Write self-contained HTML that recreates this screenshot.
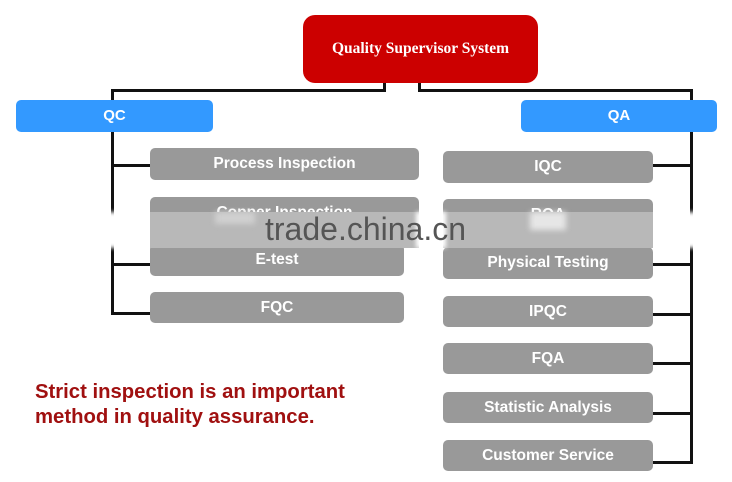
<!DOCTYPE html>
<html>
<head>
<meta charset="utf-8">
<style>
  html,body{margin:0;padding:0;background:#fff;}
  body{width:732px;height:482px;position:relative;overflow:hidden;}
  .a{position:absolute;}
  .ln{position:absolute;background:#111;}
  .red{position:absolute;left:303px;top:15px;width:235px;height:68px;background:#cc0000;border-radius:12px;
       color:#fff;font:bold 15.5px "Liberation Serif",serif;text-align:center;line-height:68px;}
  .blue{position:absolute;height:32px;background:#3399ff;border-radius:5px;color:#fff;
        font:bold 15px "Liberation Sans",sans-serif;text-align:center;line-height:32px;}
  .g{position:absolute;background:#999;border-radius:5px;color:#fff;
     font:bold 15.5px "Liberation Sans",sans-serif;text-align:center;}
  .band{position:absolute;background:#b8b8b8;}
  .txt{position:absolute;left:35px;top:380px;color:#a01010;font:bold 20.3px "Liberation Sans",sans-serif;line-height:25px;}
  .wm{position:absolute;left:265px;top:209px;font:32px "Liberation Sans",sans-serif;color:#555;line-height:40px;}
</style>
</head>
<body>
  <!-- connectors -->
  <div class="ln" style="left:383px;top:82px;width:3px;height:10px;"></div>
  <div class="ln" style="left:111px;top:89px;width:275px;height:3px;"></div>
  <div class="ln" style="left:418px;top:82px;width:3px;height:10px;"></div>
  <div class="ln" style="left:418px;top:89px;width:275px;height:3px;"></div>
  <div class="ln" style="left:111px;top:89px;width:3px;height:226px;"></div>
  <div class="ln" style="left:690px;top:89px;width:3px;height:375px;"></div>
  <!-- left branches -->
  <div class="ln" style="left:111px;top:164px;width:40px;height:3px;"></div>
  <div class="ln" style="left:111px;top:263px;width:40px;height:3px;"></div>
  <div class="ln" style="left:111px;top:312px;width:40px;height:3px;"></div>
  <!-- right branches -->
  <div class="ln" style="left:652px;top:164px;width:40px;height:3px;"></div>
  <div class="ln" style="left:652px;top:263px;width:40px;height:3px;"></div>
  <div class="ln" style="left:652px;top:313px;width:40px;height:3px;"></div>
  <div class="ln" style="left:652px;top:362px;width:40px;height:3px;"></div>
  <div class="ln" style="left:652px;top:412px;width:40px;height:3px;"></div>
  <div class="ln" style="left:652px;top:461px;width:40px;height:3px;"></div>

  <div class="red">Quality Supervisor System</div>
  <div class="blue" style="left:16px;top:100px;width:197px;">QC</div>
  <div class="blue" style="left:521px;top:100px;width:196px;">QA</div>

  <div class="g" style="left:150px;top:148px;width:269px;height:32px;line-height:31px;">Process Inspection</div>
  <div class="g" style="left:150px;top:197px;width:269px;height:32px;line-height:31px;">Copper Inspection</div>
  <div class="g" style="left:150px;top:244px;width:254px;height:32px;line-height:32px;">E-test</div>
  <div class="g" style="left:150px;top:292px;width:254px;height:31px;line-height:31px;">FQC</div>

  <div class="g" style="left:443px;top:151px;width:210px;height:32px;line-height:32px;">IQC</div>
  <div class="g" style="left:443px;top:199px;width:210px;height:32px;line-height:32px;">RQA</div>
  <div class="g" style="left:443px;top:247px;width:210px;height:32px;line-height:32px;">Physical Testing</div>
  <div class="g" style="left:443px;top:296px;width:210px;height:31px;line-height:31px;">IPQC</div>
  <div class="g" style="left:443px;top:343px;width:210px;height:31px;line-height:31px;">FQA</div>
  <div class="g" style="left:443px;top:392px;width:210px;height:31px;line-height:31px;">Statistic Analysis</div>
  <div class="g" style="left:443px;top:440px;width:210px;height:31px;line-height:31px;">Customer Service</div>

  <!-- watermark band -->
  <div class="band" style="left:150px;top:212px;width:269px;height:36px;"></div>
  <div class="band" style="left:443px;top:212px;width:210px;height:36px;"></div>
  <div class="a" style="left:104px;top:212px;width:18px;height:36px;background:#fff;filter:blur(2px);"></div>
  <div class="a" style="left:683px;top:212px;width:18px;height:36px;background:#fff;filter:blur(2px);"></div>
  <div class="a" style="left:416px;top:212px;width:30px;height:36px;background:#fff;filter:blur(2px);"></div>
  <div class="a" style="left:530px;top:212px;width:36px;height:18px;background:#e6e6e6;filter:blur(3px);"></div>
  <div class="a" style="left:215px;top:212px;width:40px;height:12px;background:#d0d0d0;filter:blur(3px);"></div>

  <div class="wm">trade.china.cn</div>

  <div class="txt">Strict inspection is an important<br>method in quality assurance.</div>
</body>
</html>
